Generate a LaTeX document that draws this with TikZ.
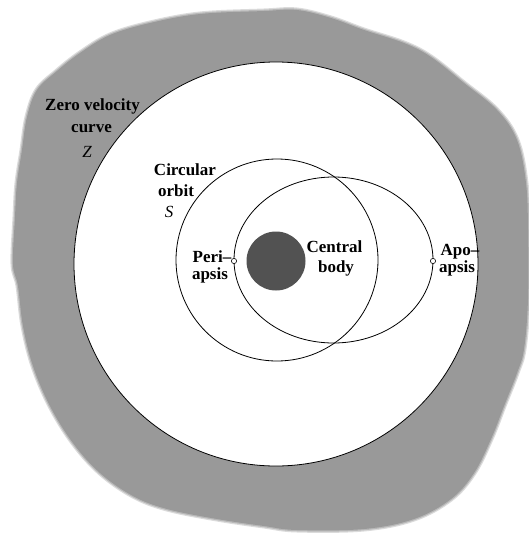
\documentclass[tikz,border=0pt]{standalone}
\usepackage{fontspec}
\setmainfont{Liberation Serif}
\definecolor{blobgray}{RGB}{153,153,153}
\definecolor{bodygray}{RGB}{82,82,82}
\begin{document}
\begin{tikzpicture}[x=1pt,y=-1pt,
  lbl/.style={font=\fontsize{17}{20}\selectfont\bfseries, inner sep=0pt, anchor=base},
  sym/.style={font=\fontsize{17}{20}\selectfont\itshape, inner sep=0pt, anchor=base},
  orbitline/.style={draw=black, line width=0.8pt},
  apsidal/.style={draw=black, fill=white, line width=0.6pt},
  blobpath/.style={smooth cycle, tension=0.6}]
\useasboundingbox (0,0) rectangle (528,533);
% zero-velocity region (forbidden region), with a soft edge
\def\blobpts{(13,264) (15,217) (17,183) (22,150) (27,117) (37,90) (57,71) (80,53) (110,35)
 (150,23) (200,14) (264,11) (297,10) (331,18) (364,30) (404,43) (431,57)
 (464,83) (497,110) (517,140) (526,183) (528,230) (528,299) (524,349)
 (517,373) (504,406) (491,439) (474,473) (451,499) (414,519) (364,529)
 (297,530) (264,526) (217,519) (167,509) (133,496) (100,473) (73,443)
 (50,406) (33,366) (23,326) (18,286)}
\draw[blobgray!35, line width=5pt] plot[blobpath] coordinates {\blobpts};
\draw[blobgray!70, line width=2.5pt] plot[blobpath] coordinates {\blobpts};
\fill[blobgray] plot[blobpath] coordinates {\blobpts};
% zero velocity curve Z
\draw[orbitline, fill=white] (276,264) circle[radius=202];
% circular orbit S
\draw[orbitline] (277,260) circle[radius=101];
% elliptical orbit
\draw[orbitline] (333.5,260) ellipse[x radius=99.5, y radius=83];
% central body
\fill[bodygray] (276,261) circle[radius=29.5];
% apsides
\draw[apsidal] (234,261) circle[radius=2.6];
\draw[apsidal] (433,261) circle[radius=2.6];
% labels
\node[lbl] (zv1) at (92.5,110) {Zero velocity};
\node[lbl] (zv2) at (91.5,132) {curve};
\node[sym] (zv3) at (87,157) {Z};
\node[lbl] (co1) at (185,175) {Circular};
\node[lbl] (co2) at (176,196) {orbit};
\node[sym] (co3) at (169,217) {S};
\node[lbl] (pe1) at (212,262) {Peri--};
\node[lbl] (pe2) at (210,279) {apsis};
\node[lbl] (cb1) at (334.5,252) {Central};
\node[lbl] (cb2) at (336,272) {body};
\node[lbl] (ap1) at (460,255) {Apo--};
\node[lbl] (ap2) at (457,272) {apsis};
\end{tikzpicture}
\end{document}
